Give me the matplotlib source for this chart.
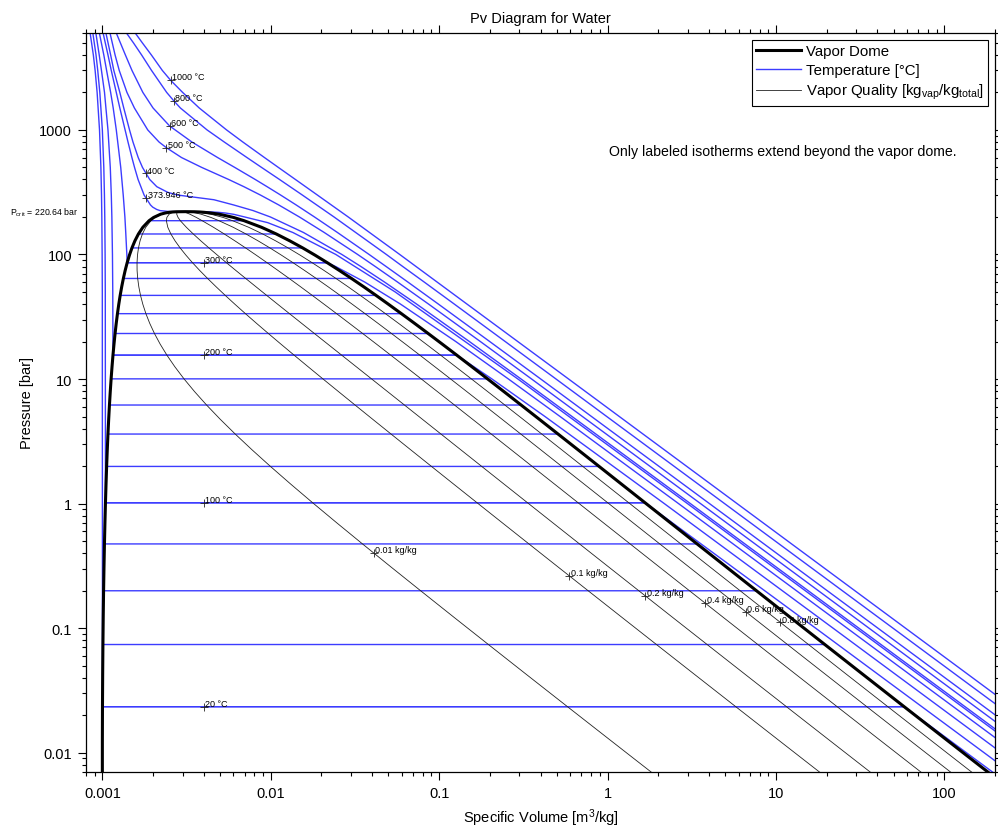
import numpy as np
import matplotlib.pyplot as plt
from matplotlib.ticker import FuncFormatter, NullFormatter, LogLocator
from matplotlib.lines import Line2D

plt.rcParams['font.family'] = ['Liberation Sans', 'DejaVu Sans']
plt.rcParams['mathtext.default'] = 'regular'
plt.rcParams['font.size'] = 10.5

# saturation table: T [°C], P [bar], vf / vg [m3/kg]
t_sat = [0.01, 5, 10, 20, 30, 40, 50, 60, 70, 80, 90, 100, 110, 120, 130, 140, 150,
         160, 170, 180, 190, 200, 210, 220, 230, 240, 250, 260, 270, 280, 290, 300,
         310, 320, 330, 340, 350, 360, 365, 370, 372, 373, 373.5, 373.8, 373.946]
p_sat = [0.006117, 0.008726, 0.012282, 0.023392, 0.042467, 0.073844, 0.12351, 0.19946,
         0.31201, 0.47415, 0.70182, 1.01418, 1.4338, 1.9867, 2.7028, 3.6154, 4.7616,
         6.1823, 7.9219, 10.028, 12.552, 15.549, 19.077, 23.196, 27.971, 33.469, 39.762,
         46.923, 55.030, 64.166, 74.418, 85.879, 98.651, 112.84, 128.58, 146.01, 165.29,
         186.66, 198.26, 210.44, 215.46, 218.10, 219.45, 220.25, 220.64]
vf_sat = [0.0010002, 0.0010001, 0.0010003, 0.0010018, 0.0010044, 0.0010079, 0.0010121,
          0.0010171, 0.0010228, 0.0010291, 0.0010360, 0.0010435, 0.0010516, 0.0010603,
          0.0010697, 0.0010798, 0.0010905, 0.0011020, 0.0011143, 0.0011274, 0.0011415,
          0.0011565, 0.0011727, 0.0011902, 0.0012090, 0.0012295, 0.0012517, 0.0012761,
          0.0013030, 0.0013328, 0.0013663, 0.0014042, 0.0014479, 0.0014990, 0.0015606,
          0.0016376, 0.0017400, 0.0018945, 0.0020160, 0.0022170, 0.00237, 0.00250,
          0.00262, 0.00276, 0.003106]
vg_sat = [205.99, 147.01, 106.30, 57.757, 32.878, 19.515, 12.026, 7.6672, 5.0395, 3.4052,
          2.3591, 1.6718, 1.2093, 0.89121, 0.66800, 0.50845, 0.39245, 0.30678, 0.24259,
          0.19384, 0.15636, 0.12721, 0.10429, 0.08609, 0.07150, 0.05970, 0.05009, 0.04219,
          0.03565, 0.03017, 0.02555, 0.02166, 0.01834, 0.01548, 0.01298, 0.01079, 0.008812,
          0.006945, 0.006013, 0.004953, 0.00438, 0.00401, 0.00376, 0.00352, 0.003106]

# isotherms shown only inside the dome
t_dome_lines = [20, 40, 60, 80, 100, 120, 140, 160, 180, 200, 220, 240, 260, 280, 300,
                320, 340, 360]

# labeled subcritical isotherms (liquid branch up, vapour branch down)
p_liq_20 = [0.023392, 50, 100, 200, 300, 500, 1000, 2000, 3000, 4000, 6000]
v_liq_20 = [0.0010018, 0.0009995, 0.0009972, 0.0009928, 0.0009886, 0.0009804, 0.000962,
            0.000931, 0.000906, 0.000884, 0.000846]
p_vap_20 = [0.023392, 0.01, 0.005]
v_vap_20 = [57.757, 135.2, 270.4]

p_liq_100 = [1.01418, 50, 100, 200, 300, 500, 1000, 2000, 3000, 4000, 6000]
v_liq_100 = [0.0010435, 0.0010410, 0.0010385, 0.0010337, 0.0010290, 0.0010201, 0.0010000,
             0.000966, 0.000939, 0.000917, 0.000878]
p_vap_100 = [1.01418, 1.0, 0.1, 0.01, 0.005]
v_vap_100 = [1.6718, 1.6959, 17.196, 172.2, 344.4]

p_liq_200 = [15.549, 50, 100, 200, 300, 500, 1000, 1500, 2000, 3000, 4000, 6000]
v_liq_200 = [0.0011565, 0.0011531, 0.0011482, 0.0011389, 0.0011302, 0.0011146, 0.00108,
             0.00105, 0.00103, 0.000988, 0.000958, 0.000915]
p_vap_200 = [15.549, 10, 5, 1, 0.1, 0.01]
v_vap_200 = [0.12721, 0.20602, 0.42503, 2.1724, 21.826, 218.37]

p_liq_300 = [85.879, 100, 150, 200, 300, 500, 1000, 1500, 2000, 3000, 4000, 6000]
v_liq_300 = [0.0014042, 0.0013979, 0.0013770, 0.0013611, 0.0013304, 0.0012860, 0.00121,
             0.00116, 0.00112, 0.00106, 0.00102, 0.00096]
p_vap_300 = [85.879, 80, 60, 40, 20, 10, 5, 1, 0.1, 0.01]
v_vap_300 = [0.02166, 0.02428, 0.03619, 0.05887, 0.12551, 0.25799, 0.52261, 2.6389,
             26.446, 264.5]

# supercritical isotherms
p_374 = [0.01, 1, 10, 50, 100, 150, 180, 200, 210, 215, 218, 220, 220.64, 221, 225, 230,
         240, 250, 300, 400, 500, 600, 800, 1000, 1500, 2000, 3000, 4000, 6000]
v_374 = [298.65, 2.9815, 0.2936, 0.05483, 0.02434, 0.01354, 0.0096, 0.0070, 0.00603,
         0.0054, 0.00487, 0.00425, 0.003106, 0.0025, 0.0022, 0.0021, 0.00199, 0.00193,
         0.00177, 0.00163, 0.001553, 0.001498, 0.00142, 0.001365, 0.00127, 0.00121,
         0.00113, 0.00108, 0.00101]

p_400 = [0.01, 1, 10, 20, 40, 60, 80, 100, 150, 200, 225, 250, 275, 290, 300, 315, 350,
         400, 500, 600, 800, 1000, 1500, 2000, 3000, 4000, 6000]
v_400 = [310.68, 3.1027, 0.30661, 0.15121, 0.07343, 0.04742, 0.03432, 0.02644, 0.01566,
         0.00995, 0.00786, 0.006005, 0.0046, 0.0034, 0.002798, 0.00245, 0.002106, 0.001911,
         0.001731, 0.001633, 0.00152, 0.00145, 0.00134, 0.00127, 0.00117, 0.00112, 0.00105]

p_500 = [0.01, 1, 10, 20, 40, 60, 80, 100, 150, 200, 250, 300, 350, 400, 500, 600, 721,
         800, 1000, 1500, 2000, 3000, 4000, 6000]
v_500 = [356.83, 3.5655, 0.35411, 0.17568, 0.08644, 0.05667, 0.04177, 0.03281, 0.02080,
         0.014793, 0.011142, 0.008683, 0.006928, 0.005623, 0.003890, 0.002952, 0.002396,
         0.00217, 0.00186, 0.00155, 0.00140, 0.00126, 0.00119, 0.00111]

p_600 = [0.01, 1, 10, 20, 40, 60, 80, 100, 150, 200, 250, 300, 350, 400, 500, 600, 800,
         1077, 1500, 2000, 3000, 4000, 6000]
v_600 = [402.98, 4.0279, 0.40111, 0.19962, 0.09886, 0.06527, 0.04845, 0.03837, 0.02491,
         0.018185, 0.014140, 0.011444, 0.009515, 0.008088, 0.006111, 0.004835, 0.0034,
         0.002507, 0.00200, 0.00174, 0.00150, 0.00137, 0.00121]

p_800 = [0.01, 1, 10, 20, 40, 60, 80, 100, 200, 300, 400, 500, 600, 800, 1000, 1500, 1710,
         2000, 3000, 4000, 5000, 6000]
v_800 = [495.29, 4.9519, 0.49438, 0.24674, 0.12292, 0.08160, 0.06083, 0.04859, 0.023758,
         0.015404, 0.011272, 0.008816, 0.007223, 0.005293, 0.004185, 0.002906, 0.002659,
         0.00241, 0.00196, 0.00171, 0.00153, 0.00139]

p_1000 = [0.01, 1, 10, 100, 200, 300, 400, 500, 600, 800, 1000, 1500, 2000, 2509, 3000,
          4000, 5000, 6000]
v_1000 = [587.6, 5.8754, 0.58718, 0.05832, 0.02885, 0.018917, 0.014012, 0.011094,
          0.009176, 0.006824, 0.005465, 0.003761, 0.002997, 0.00254, 0.002272, 0.001954,
          0.001728, 0.001567]

# isotherm labels
iso_labels = ['20 °C', '100 °C', '200 °C', '300 °C', '373.946 °C', '400 °C', '500 °C',
              '600 °C', '800 °C', '1000 °C']
iso_label_v = [0.004, 0.004, 0.004, 0.004, 0.00182, 0.00181, 0.002396, 0.002507,
               0.002659, 0.00254]
iso_label_p = [0.023392, 1.01418, 15.549, 85.879, 283, 449, 721, 1077, 1710, 2509]

# vapour quality lines and their label pressures
qualities = [0.01, 0.1, 0.2, 0.4, 0.6, 0.8]
quality_labels = ['0.01 kg/kg', '0.1 kg/kg', '0.2 kg/kg', '0.4 kg/kg', '0.6 kg/kg',
                  '0.8 kg/kg']
quality_label_p = [0.40, 0.263, 0.1817, 0.1588, 0.135, 0.111]

p_crit = 220.64

fig = plt.figure(figsize=(9.98, 8.29), dpi=100)
ax = fig.add_axes([0.0862, 0.0676, 0.9108, 0.8914])
ax.set_xscale('log')
ax.set_yscale('log')

iso_color = '#3c3cff'
iso_kw = dict(color=iso_color, lw=1.0, snap=False)

# isotherms inside the dome
for t in t_dome_lines:
    i = t_sat.index(t)
    ax.plot([vf_sat[i], vg_sat[i]], [p_sat[i], p_sat[i]], **iso_kw)

# labeled subcritical isotherms
sub_isotherms = [
    (v_liq_20, p_liq_20, v_vap_20, p_vap_20),
    (v_liq_100, p_liq_100, v_vap_100, p_vap_100),
    (v_liq_200, p_liq_200, v_vap_200, p_vap_200),
    (v_liq_300, p_liq_300, v_vap_300, p_vap_300),
]
for v_l, p_l, v_g, p_g in sub_isotherms:
    ax.plot(v_l[::-1] + v_g, p_l[::-1] + p_g, **iso_kw)

# supercritical isotherms
for v, p in [(v_374, p_374), (v_400, p_400), (v_500, p_500), (v_600, p_600),
             (v_800, p_800), (v_1000, p_1000)]:
    ax.plot(v, p, **iso_kw)

# quality lines
vf = np.array(vf_sat)
vg = np.array(vg_sat)
ps = np.array(p_sat)
q_label_v = []
for q, pl in zip(qualities, quality_label_p):
    vq = vf + q * (vg - vf)
    ax.plot(vq, ps, color='#222222', lw=0.6)
    q_label_v.append(10 ** np.interp(np.log10(pl), np.log10(ps), np.log10(vq)))

# vapor dome
ax.plot(np.concatenate([vf, vg[::-1]]), np.concatenate([ps, ps[::-1]]),
        color='black', lw=2.2)

# labels
ax.plot(iso_label_v, iso_label_p, '+', color='#222222', ms=6, mew=0.6)
for v, p, s in zip(iso_label_v, iso_label_p, iso_labels):
    ax.annotate(s, (v, p), xytext=(1, 0.5), textcoords='offset points',
                fontsize=6.5, ha='left', va='baseline')
ax.plot(q_label_v, quality_label_p, '+', color='#222222', ms=6, mew=0.6)
for v, p, s in zip(q_label_v, quality_label_p, quality_labels):
    ax.annotate(s, (v, p), xytext=(1, 0.5), textcoords='offset points',
                fontsize=6.5, ha='left', va='baseline')

ax.text(-0.009, p_crit, 'P$_{crit}$ = 220.64 bar', transform=ax.get_yaxis_transform(),
        ha='right', va='center', fontsize=6.3)
ax.text(0.958, 0.840, 'Only labeled isotherms extend beyond the vapor dome.',
        transform=ax.transAxes, ha='right', va='center', fontsize=10.15)

ax.set_xlim(0.0008, 200)
ax.set_ylim(0.007, 6000)

for axis in (ax.xaxis, ax.yaxis):
    axis.set_major_locator(LogLocator(base=10, numticks=20))
    axis.set_minor_locator(LogLocator(base=10, subs=np.arange(2, 10), numticks=20))
    axis.set_major_formatter(FuncFormatter(lambda x, pos: f'{x:g}'))
    axis.set_minor_formatter(NullFormatter())
ax.tick_params(which='both', direction='out', top=True, right=True, width=0.8)
ax.tick_params(which='major', length=6, pad=4)
ax.tick_params(which='minor', length=3)
for s in ax.spines.values():
    s.set_linewidth(0.9)

ax.set_xlabel('Specific Volume [m$^3$/kg]', labelpad=5)
ax.set_ylabel('Pressure [bar]', labelpad=4)
ax.set_title('Pv Diagram for Water', fontsize=10.5, pad=8)

handles = [Line2D([], [], color='black', lw=2.2),
           Line2D([], [], color=iso_color, lw=1.0),
           Line2D([], [], color='#222222', lw=0.6)]
labels = ['Vapor Dome', 'Temperature [°C]', 'Vapor Quality [kg$_{vap}$/kg$_{total}$]']
leg = ax.legend(handles, labels, loc='upper right', fancybox=False, edgecolor='black',
                framealpha=1, handlelength=3.0, handletextpad=0.3, borderpad=0.3,
                labelspacing=0.33, fontsize=10.8, borderaxespad=0.45)
leg.get_frame().set_linewidth(0.8)

fig.savefig('out.png', dpi=100)
